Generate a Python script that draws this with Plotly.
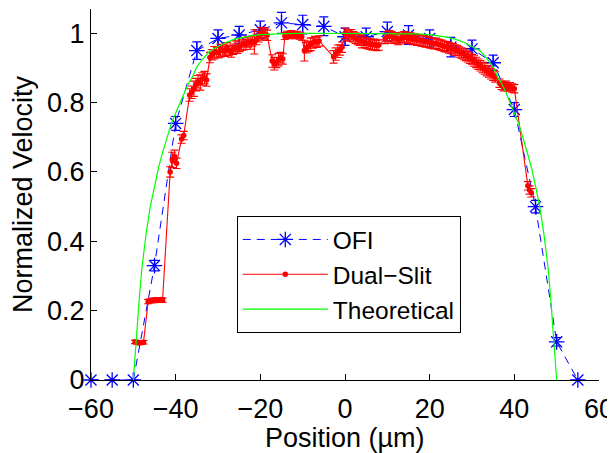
import plotly.graph_objects as go

# ---- OFI data ----
ofi_x = [-60, -55, -50, -45, -40, -35, -30, -25, -20, -15, -10, -5, 0, 5, 10, 15, 20, 25, 30, 35, 40, 45, 50, 55]
ofi_y = [0, 0, 0, 0.33, 0.74, 0.95, 0.985, 0.995, 1.01, 1.03, 1.025, 1.02, 0.99, 0.99, 1.005, 0.995,
         0.985, 0.96, 0.955, 0.915, 0.78, 0.50, 0.11, 0]
ofi_err = [0, 0, 0, 0.015, 0.02, 0.025, 0.025, 0.025, 0.025, 0.03, 0.027, 0.027, 0.025, 0.025, 0.027, 0.027,
           0.025, 0.028, 0.025, 0.022, 0.02, 0.018, 0.012, 0]

# ---- Dual-slit data ----
ds_x = [-49.6, -49.1, -48.6, -48.1, -47.6,
        -46.5, -46.0, -45.5, -45.0, -44.5, -44.0, -43.5, -43.1,
        -41.3, -40.8, -40.3, -39.8, -38.6, -38.1,
        -36.7, -36.2, -35.7, -35.2, -34.7, -34.2, -33.7, -33.2, -32.7,
        -31.9, -31.4, -30.9, -30.4, -29.9, -29.4, -28.9, -28.4, -27.9, -27.4, -26.9, -26.4, -25.9, -25.4,
        -24.9, -24.4, -23.9, -23.4, -22.9, -22.4, -21.9, -21.4, -20.9, -20.4, -19.9, -19.4, -18.9, -18.4,
        -17.2, -16.7, -16.2, -15.7, -15.2, -14.7,
        -14.2, -13.7, -13.2, -12.7, -12.2, -11.7, -11.2, -10.7, -10.2,
        -9.6, -9.1, -8.6, -8.1, -7.6, -7.1, -6.6, -6.1,
        -2.7, -2.2, -1.7, -1.2, -0.7,
        0.0, 0.5, 1.0, 1.5, 2.0, 2.5, 3.0, 3.5, 4.0, 4.5, 5.0, 5.5, 6.0, 6.5, 7.0, 7.5, 8.0,
        9.5, 10.0, 10.5, 11.0, 11.5, 12.0, 12.5, 13.0, 13.5, 14.0, 14.5, 15.0, 15.5, 16.0, 16.5, 17.0,
        17.5, 18.0, 18.5, 19.0, 19.5, 20.0, 20.5, 21.0, 21.5, 22.0, 22.5, 23.0, 23.5, 24.0, 24.5, 25.0,
        25.5, 26.0, 26.5, 27.0, 27.5, 28.0, 28.5, 29.0, 29.5, 30.0, 30.5, 31.0, 31.5, 32.0, 32.5, 33.0,
        33.5, 34.0, 34.5, 35.0, 35.5,
        36.5, 37.0, 37.5, 38.0, 38.5, 39.0, 39.5, 40.0,
        43.2, 43.6, 44.0]
ds_y = [0.110, 0.108, 0.107, 0.108, 0.109,
        0.226, 0.228, 0.230, 0.229, 0.231, 0.230, 0.232, 0.230,
        0.600, 0.635, 0.645, 0.625, 0.695, 0.705,
        0.822, 0.830, 0.840, 0.852, 0.860, 0.858, 0.868, 0.872, 0.865,
        0.930, 0.938, 0.944, 0.946, 0.944, 0.950, 0.952, 0.948, 0.955, 0.950, 0.946, 0.954, 0.960, 0.957,
        0.962, 0.966, 0.970, 0.968, 0.975, 0.972, 0.978, 0.975, 0.982, 0.990, 0.998, 1.002, 0.998, 0.994,
        0.920, 0.912, 0.916, 0.924, 0.930, 0.926,
        0.992, 0.996, 0.994, 0.998, 0.996, 0.994, 0.996, 0.993, 0.990,
        0.950, 0.958, 0.962, 0.968, 0.972, 0.976, 0.974, 0.978,
        0.932, 0.940, 0.948, 0.952, 0.960,
        1.000, 0.995, 0.992, 0.996, 0.990, 0.986, 0.982, 0.980, 0.976, 0.974, 0.972, 0.970, 0.968, 0.966, 0.968, 0.965, 0.966,
        0.985, 0.990, 0.993, 0.990, 0.986, 0.987, 0.982, 0.984, 0.988, 0.990, 0.988, 0.985, 0.986, 0.982, 0.984, 0.980,
        0.981, 0.978, 0.978, 0.975, 0.976, 0.973, 0.972, 0.970, 0.971, 0.968, 0.966, 0.965, 0.962, 0.961, 0.958, 0.956,
        0.955, 0.951, 0.950, 0.946, 0.943, 0.940, 0.936, 0.932, 0.928, 0.924, 0.920, 0.916, 0.911, 0.906, 0.901, 0.897,
        0.892, 0.888, 0.883, 0.879, 0.874,
        0.856, 0.850, 0.846, 0.850, 0.845, 0.846, 0.842, 0.840,
        0.560, 0.548, 0.540]
ds_err = [0.005, 0.005, 0.005, 0.005, 0.005,
          0.006, 0.006, 0.006, 0.006, 0.006, 0.006, 0.006, 0.006,
          0.015, 0.022, 0.018, 0.015, 0.012, 0.012,
          0.018, 0.018, 0.022, 0.018, 0.018, 0.022, 0.018, 0.018, 0.018,
          0.015, 0.015, 0.018, 0.015, 0.015, 0.018, 0.015, 0.015, 0.018, 0.015, 0.015, 0.015, 0.018, 0.015,
          0.015, 0.015, 0.018, 0.015, 0.015, 0.018, 0.015, 0.035, 0.015, 0.015, 0.018, 0.015, 0.015, 0.015,
          0.018, 0.018, 0.015, 0.018, 0.015, 0.015,
          0.01, 0.01, 0.01, 0.01, 0.01, 0.01, 0.01, 0.01, 0.01,
          0.03, 0.015, 0.015, 0.018, 0.015, 0.015, 0.015, 0.015,
          0.018, 0.018, 0.018, 0.015, 0.015,
          0.015, 0.015, 0.015, 0.015, 0.015, 0.015, 0.015, 0.015, 0.018, 0.015, 0.015, 0.015, 0.015, 0.015, 0.015, 0.015, 0.015,
          0.015, 0.015, 0.015, 0.015, 0.015, 0.015, 0.015, 0.015, 0.015, 0.015, 0.015, 0.015, 0.015, 0.015, 0.015, 0.015,
          0.015, 0.015, 0.015, 0.015, 0.015, 0.015, 0.015, 0.015, 0.015, 0.015, 0.015, 0.015, 0.015, 0.015, 0.015, 0.015,
          0.015, 0.015, 0.015, 0.015, 0.015, 0.015, 0.015, 0.015, 0.015, 0.015, 0.015, 0.015, 0.015, 0.015, 0.015, 0.015,
          0.015, 0.015, 0.015, 0.015, 0.015,
          0.012, 0.012, 0.012, 0.012, 0.012, 0.012, 0.012, 0.012,
          0.012, 0.012, 0.012]

# ---- Theoretical profile ----
th_x = [-50, -49.5, -49, -48.5, -48, -47, -46, -45, -44, -43, -42, -41, -40, -39, -38, -37, -36, -35,
        -34, -33, -32, -30, -28, -26, -24, -22, -20, -17, -14, -10, -5, 0,
        5, 10, 14, 17, 20, 22, 24, 26, 28, 30, 32, 33, 34, 35, 36, 37, 38, 39, 40, 41, 42, 43, 44, 45,
        46, 47, 48, 48.5, 49, 49.5, 50]
th_y = [0, 0.09, 0.17, 0.25, 0.32, 0.42, 0.50, 0.56, 0.615, 0.66, 0.70, 0.74, 0.77, 0.80, 0.83, 0.855, 0.875, 0.903,
        0.92, 0.935, 0.948, 0.962, 0.974, 0.983, 0.989, 0.993, 0.996, 0.998, 0.999, 1.0, 1.0, 1.0,
        1.0, 1.0, 0.999, 0.998, 0.996, 0.993, 0.989, 0.983, 0.974, 0.962, 0.948, 0.935, 0.92, 0.903, 0.875, 0.855,
        0.83, 0.80, 0.77, 0.74, 0.70, 0.66, 0.615, 0.56, 0.50, 0.42, 0.32, 0.25, 0.17, 0.09, 0]

x_ticks = [-60, -40, -20, 0, 20, 40, 60]
y_ticks = [0, 0.2, 0.4, 0.6, 0.8, 1]
y_ticklabels = ["0", "0.2", "0.4", "0.6", "0.8", "1"]

FONT = "Liberation Sans, Arial, Helvetica, sans-serif"
BLUE = "rgb(0,0,255)"
RED = "rgb(255,0,0)"
GREEN = "rgb(0,255,0)"

fig = go.Figure()

fig.add_trace(go.Scatter(
    x=ofi_x, y=ofi_y, name="OFI", mode="lines+markers",
    line=dict(color=BLUE, width=1, dash="8px,6px"),
    marker=dict(symbol="asterisk-open", size=13, color=BLUE, line=dict(color=BLUE, width=1.3)),
    error_y=dict(type="data", array=ofi_err, visible=True, color=BLUE, thickness=1.2, width=4.5),
    cliponaxis=False,
))

fig.add_trace(go.Scatter(
    x=ds_x, y=ds_y, name="Dual\u2212Slit", mode="lines+markers",
    line=dict(color=RED, width=1.1),
    marker=dict(symbol="circle", size=5.5, color=RED),
    error_y=dict(type="data", array=ds_err, visible=True, color=RED, thickness=1.1, width=4),
))

fig.add_trace(go.Scatter(
    x=th_x, y=th_y, name="Theoretical", mode="lines",
    line=dict(color=GREEN, width=1.2),
))

# the page body has an 8px margin, so the figure is sized/offset to compensate
fig.update_layout(
    width=607, height=445,
    margin=dict(l=83, r=16, t=1, b=73),
    paper_bgcolor="white", plot_bgcolor="white",
    font=dict(family=FONT, size=27, color="black"),
    showlegend=True,
    legend=dict(
        x=0.287, y=0.442, xanchor="left", yanchor="top",
        bordercolor="black", borderwidth=1, bgcolor="white",
        font=dict(family=FONT, size=24.5, color="black"),
        itemwidth=85, tracegroupgap=0,
    ),
    xaxis=dict(
        range=[-60, 60], tickvals=x_ticks, ticks="inside", ticklen=6, tickcolor="black",
        showline=True, linecolor="black", linewidth=1, showgrid=False, zeroline=False,
        mirror=False, automargin=False, ticklabelstandoff=5,
        tickfont=dict(size=27),
    ),
    yaxis=dict(
        range=[0, 1.07], tickvals=y_ticks, ticktext=y_ticklabels, ticks="inside", ticklen=6,
        tickcolor="black", showline=True, linecolor="black", linewidth=1, showgrid=False,
        zeroline=False, mirror=False, automargin=False,
        title=dict(text="Normalized Velocity", standoff=6, font=dict(size=27)),
        tickfont=dict(size=27),
    ),
    annotations=[dict(
        text="Position (\u00b5m)", xref="paper", yref="paper", x=0.5, y=-0.155,
        xanchor="center", yanchor="middle", showarrow=False,
        font=dict(family=FONT, size=27, color="black"),
    )],
)

fig.write_html("out.html")
